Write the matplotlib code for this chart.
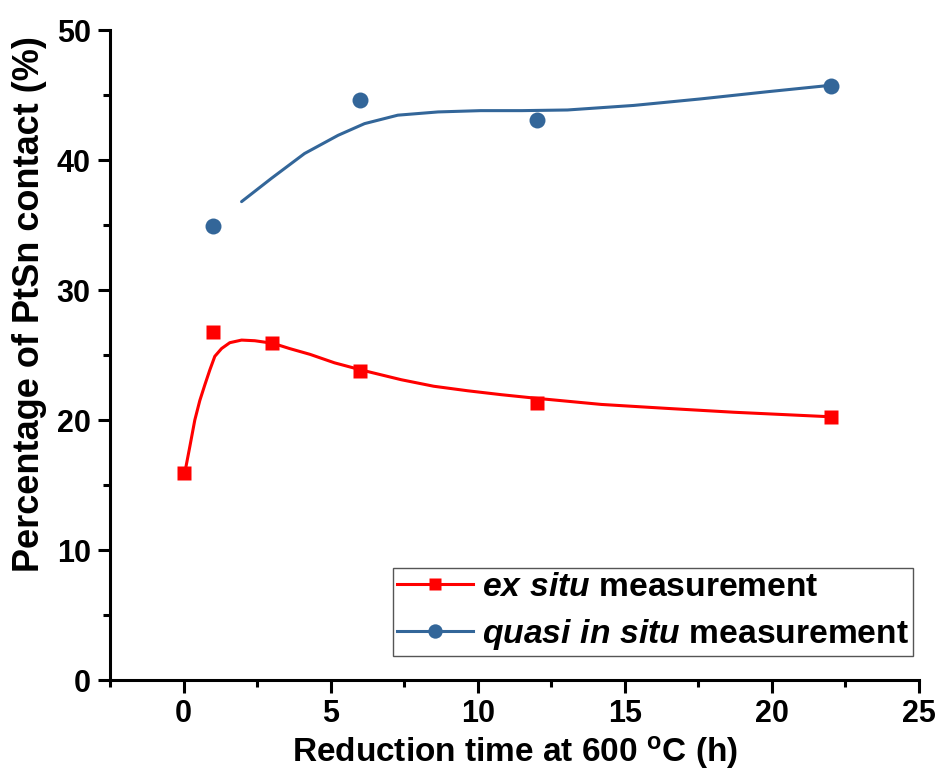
import matplotlib
matplotlib.use("Agg")
import matplotlib.pyplot as plt
import numpy as np

plt.rcParams['font.family'] = ['Liberation Sans', 'DejaVu Sans']
plt.rcParams['font.weight'] = 'bold'
plt.rcParams['mathtext.fontset'] = 'custom'
plt.rcParams['mathtext.it'] = 'Liberation Sans:italic:bold'
plt.rcParams['mathtext.bf'] = 'Liberation Sans:bold'
plt.rcParams['mathtext.rm'] = 'Liberation Sans:bold'

# measured points
ex_t = [0, 1, 3, 6, 12, 22]
ex_pct = [15.9, 26.8, 25.9, 23.8, 21.3, 20.2]
quasi_t = [1, 6, 12, 22]
quasi_pct = [34.9, 44.6, 43.1, 45.7]

# smoothed trend curves
ex_fit_t = [0, 0.07, 0.21, 0.38, 0.55, 0.72, 0.89, 1.06, 1.29, 1.57, 1.97,
            2.42, 3.04, 3.6, 4.3, 5.13, 6.04, 7.4, 8.5, 9.66, 10.8, 12.0,
            14.2, 16.4, 18.7, 22.0]
ex_fit_pct = [15.9, 16.3, 17.95, 20.0, 21.5, 22.7, 23.85, 24.9, 25.5, 25.95,
              26.15, 26.1, 25.9, 25.5, 25.05, 24.4, 23.85, 23.1, 22.6, 22.25,
              21.95, 21.67, 21.2, 20.9, 20.6, 20.25]
quasi_fit_t = [1.97, 2.99, 4.11, 5.25, 6.15, 7.28, 8.65, 10.1, 11.5, 13.05,
               15.3, 17.57, 19.83, 22.0]
quasi_fit_pct = [36.8, 38.6, 40.5, 41.9, 42.8, 43.45, 43.7, 43.8, 43.8, 43.85,
                 44.2, 44.7, 45.25, 45.75]

red = '#ff0000'
blue = '#336699'

fig = plt.figure(figsize=(9.41, 7.74), dpi=100)
ax = fig.add_axes([0.117, 0.1214, 0.8596, 0.8398])

ax.plot(ex_fit_t, ex_fit_pct, color=red, lw=2.2, solid_capstyle='round')
ax.plot(quasi_fit_t, quasi_fit_pct, color=blue, lw=2.2, solid_capstyle='round')
ax.plot(ex_t, ex_pct, 's', color=red, ms=10, mec='none')
ax.plot(quasi_t, quasi_pct, 'o', color=blue, ms=11.5, mec='none')

# legend proxies: line with marker
h1, = ax.plot([], [], '-s', color=red, lw=2.2, ms=10, mec='none')
h2, = ax.plot([], [], '-o', color=blue, lw=2.2, ms=11.5, mec='none')
leg = ax.legend([h1, h2],
                [r'$\it{ex\ situ}$ measurement',
                 r'$\it{quasi\ in\ situ}$ measurement'],
                loc='upper right', bbox_to_anchor=(0.9926, 0.1723),
                prop={'size': 24.2, 'weight': 'bold'}, numpoints=1,
                markerscale=0.9, handlelength=2.25, handletextpad=0.27,
                borderpad=0.12, labelspacing=0.42, borderaxespad=0,
                fancybox=False, framealpha=1, edgecolor='#555555')
leg.get_frame().set_linewidth(1.0)

ax.set_xlim(-2.5, 25)
ax.set_ylim(0, 50)
ax.set_xticks(np.arange(0, 26, 5))
ax.set_xticks(np.arange(-2.5, 25.1, 2.5), minor=True)
ax.set_yticks(np.arange(0, 51, 10))
ax.set_yticks(np.arange(0, 51, 5), minor=True)

for side in ['top', 'right']:
    ax.spines[side].set_visible(False)
for side in ['left', 'bottom']:
    ax.spines[side].set_linewidth(2.2)

ax.tick_params(which='major', direction='out', length=9, width=2.2,
               labelsize=22, pad=5)
ax.tick_params(which='minor', direction='out', length=5, width=2.2)
for lbl in ax.get_xticklabels() + ax.get_yticklabels():
    lbl.set_fontweight('bold')

ax.set_xlabel(r'Reduction time at 600 $^{\mathbf{o}}$C (h)', fontsize=24,
              fontweight='bold', labelpad=3)
ax.set_ylabel('Percentage of PtSn contact (%)', fontsize=26,
              fontweight='bold')
ax.yaxis.set_label_coords(-0.078, 0.578)

fig.savefig('out.png', dpi=100)
